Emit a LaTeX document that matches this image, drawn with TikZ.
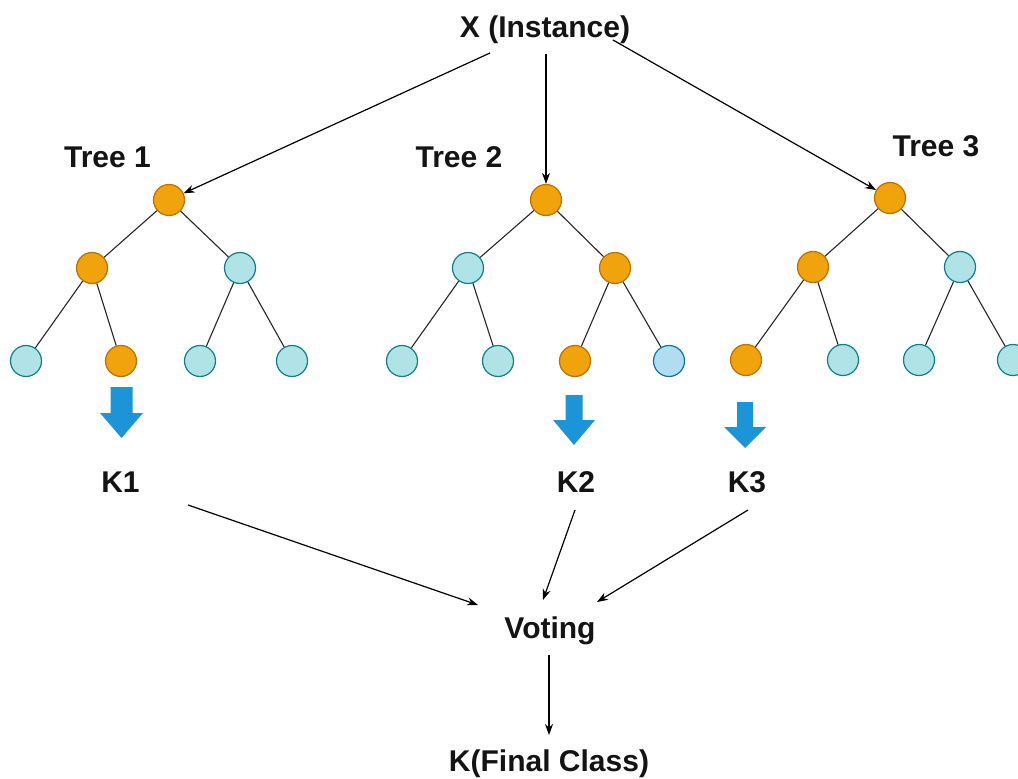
\documentclass[tikz,border=0pt]{standalone}
\usepackage{fontspec}
\setmainfont{Liberation Sans}
\usetikzlibrary{arrows.meta}
\definecolor{orfill}{HTML}{F0A30A}
\definecolor{ordraw}{HTML}{BD7000}
\definecolor{tlfill}{HTML}{B0E3E6}
\definecolor{tldraw}{HTML}{0E8088}
\definecolor{bufill}{HTML}{B1DDF0}
\definecolor{budraw}{HTML}{10739E}
\definecolor{arrblue}{HTML}{1B95D8}
\tikzset{
  x=1pt, y=-1pt,
  nd/.style={circle, minimum size=31pt, inner sep=0pt, line width=1.2pt},
  hit/.style={nd, fill=orfill, draw=ordraw},
  miss/.style={nd, fill=tlfill, draw=tldraw},
  missb/.style={nd, fill=bufill, draw=budraw},
  branch/.style={draw=black!85, line width=1.1pt},
  lbl/.style={font=\bfseries\fontsize{30}{36}\selectfont, inner sep=0pt, anchor=base, text=black!92},
  arr/.style={draw=black, line width=1.2pt, -{Stealth[length=11pt,width=8pt]}},
  blockarr/.style={fill=arrblue, draw=none}
}
\begin{document}
\begin{tikzpicture}
\useasboundingbox (0,0) rectangle (1018,779);
\fill[white] (0,0) rectangle (1018,779);
\clip (0,0) rectangle (1018,779);

% labels, placed by their baselines
\node[lbl] (X) at (545,37) {X (Instance)};
\node[lbl] (T1) at (107.5,167) {Tree 1};
\node[lbl] (T2) at (459,167) {Tree 2};
\node[lbl] (T3) at (936,156) {Tree 3};
\node[lbl] (K1) at (120.5,492) {K1};
\node[lbl] (K2) at (576,492) {K2};
\node[lbl] (K3) at (747,492) {K3};
\node[lbl] (vote) at (550,638) {Voting};
\node[lbl] (final) at (549,771) {K(Final Class)};

% tree 1
\node[hit]  (a0) at (169,200) {};
\node[hit]  (a1) at (92,268) {};
\node[miss] (a2) at (240,268) {};
\node[miss] (a3) at (26,361) {};
\node[hit]  (a4) at (121,361) {};
\node[miss] (a5) at (200,361) {};
\node[miss] (a6) at (292,361) {};
\draw[branch] (a0) -- (a1) (a0) -- (a2) (a1) -- (a3) (a1) -- (a4) (a2) -- (a5) (a2) -- (a6);

% tree 2
\node[hit]   (b0) at (546,200) {};
\node[miss]  (b1) at (468,268) {};
\node[hit]   (b2) at (615,268) {};
\node[miss]  (b3) at (402,361) {};
\node[miss]  (b4) at (498,361) {};
\node[hit]   (b5) at (575,361) {};
\node[missb] (b6) at (669,361) {};
\draw[branch] (b0) -- (b1) (b0) -- (b2) (b1) -- (b3) (b1) -- (b4) (b2) -- (b5) (b2) -- (b6);

% tree 3
\node[hit]  (c0) at (890,198) {};
\node[hit]  (c1) at (813,267) {};
\node[miss] (c2) at (960,267) {};
\node[hit]  (c3) at (746,360) {};
\node[miss] (c4) at (843,360) {};
\node[miss] (c5) at (919,360) {};
\node[miss] (c6) at (1013,360) {};
\draw[branch] (c0) -- (c1) (c0) -- (c2) (c1) -- (c3) (c1) -- (c4) (c2) -- (c5) (c2) -- (c6);

% instance fed to every tree
\draw[arr] ([shift={(-55,16)}]X.base) -- (a0);
\draw[arr] ([shift={(1,17)}]X.base) -- (b0);
\draw[arr] ([shift={(68,3)}]X.base) -- (c0);

% block arrows from the reached leaves
\fill[blockarr] (110.5,387) -- (132.5,387) -- (132.5,413) -- (143,413) -- (121.5,438) -- (100,413) -- (110.5,413) -- cycle;
\fill[blockarr] (565.5,395) -- (582.5,395) -- (582.5,420) -- (595,420) -- (574,445) -- (553,420) -- (565.5,420) -- cycle;
\fill[blockarr] (737,402) -- (753,402) -- (753,427) -- (766,427) -- (745,448) -- (724,427) -- (737,427) -- cycle;

% votes
\draw[arr] ([shift={(67.5,13)}]K1.base) -- ([shift={(-72,-33)}]vote.base);
\draw[arr] ([shift={(-1,18)}]K2.base) -- ([shift={(-7,-38)}]vote.base);
\draw[arr] ([shift={(1,18)}]K3.base) -- ([shift={(47,-36)}]vote.base);
\draw[arr] ([shift={(-1,17)}]vote.base) -- ([shift={(0,-36)}]final.base);
\end{tikzpicture}
\end{document}
